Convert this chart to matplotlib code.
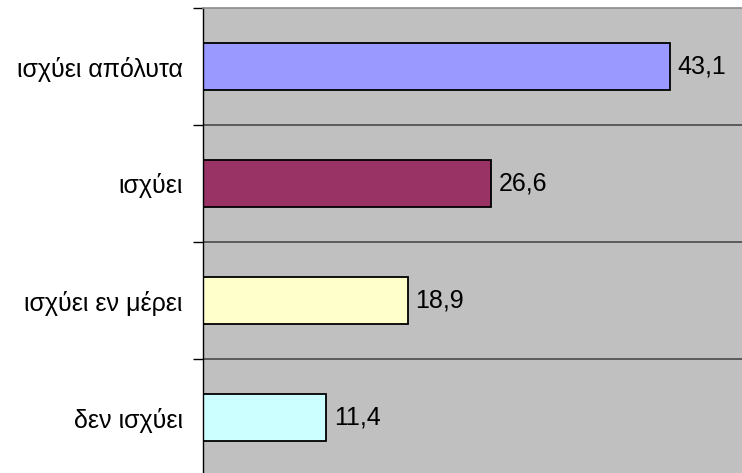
import matplotlib
matplotlib.use('Agg')
import matplotlib.pyplot as plt

kategorie = ['ισχύει απόλυτα', 'ισχύει', 'ισχύει εν μέρει', 'δεν ισχύει']
wartosci = [43.1, 26.6, 18.9, 11.4]
kolory = ['#9999FF', '#993366', '#FFFFCC', '#CCFFFF']

plt.rcParams['font.family'] = ['Liberation Sans', 'DejaVu Sans']

fig = plt.figure(figsize=(7.42, 4.73), dpi=100)
ax = fig.add_axes([203 / 742, -3 / 473, 541.5 / 742, 468 / 473])
ax.set_facecolor('#C0C0C0')

poz = list(range(len(kategorie)))
ax.barh(poz, wartosci, height=0.4, color=kolory, edgecolor='black', linewidth=1.3)

for p, w in zip(poz, wartosci):
    ax.text(w + 0.7, p, f'{w:.1f}'.replace('.', ','), va='center', ha='left', fontsize=18)

ax.set_xlim(0, 50)
ax.set_ylim(3.5, -0.5)
ax.set_xticks([])

# granice kategorii jako linie siatki
granice = [-0.5, 0.5, 1.5, 2.5]
ax.set_yticks(granice)
ax.set_yticklabels([])
ax.tick_params(axis='y', which='major', length=7, width=1, color='black')
for g in granice[1:]:
    ax.axhline(g, color='#4a4a4a', linewidth=1.2, zorder=0.5)

ax.set_yticks(poz, minor=True)
ax.set_yticklabels(kategorie, minor=True, fontsize=18)
ax.tick_params(axis='y', which='minor', length=0, pad=14.5)

for s in ['right', 'bottom']:
    ax.spines[s].set_visible(False)
ax.spines['top'].set_color('#8a8a8a')
ax.spines['top'].set_linewidth(1.2)
ax.spines['left'].set_color('black')
ax.spines['left'].set_linewidth(1)

fig.savefig('out.png', dpi=100)
